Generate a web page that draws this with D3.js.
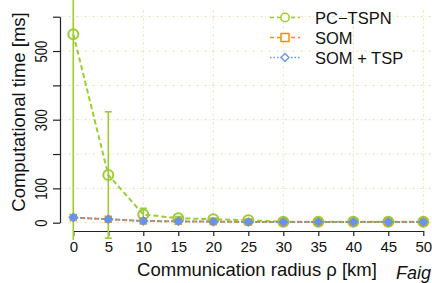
<!DOCTYPE html>
<html>
<head>
<meta charset="utf-8">
<script src="https://cdn.jsdelivr.net/npm/d3@7"></script>
<style>
  body { margin: 0; background: #fff; }
  svg { display: block; font-family: "Liberation Sans", Arial, sans-serif; }
</style>
</head>
<body>
<div id="chart"></div>
<script>
// communication radius [km]
var radius = [0, 5, 10, 15, 20, 25, 30, 35, 40, 45, 50];
// computational time [ms]
var pcTspn = [549, 139, 24, 13, 10, 7, 3, 3, 3, 3, 3];
var pcTspnErr = [700, 184, 18, 5, 3, 2, 1, 1, 1, 1, 1];
var som = [15, 10, 5, 4, 3, 2, 2, 2, 2, 2, 2];
var somTsp = [15, 10, 5, 4, 3, 2, 2, 2, 2, 2, 2];
var yTicks = [0, 100, 200, 300, 400, 500, 600];
var yLabels = [0, 100, 300, 500];
var legendNames = ['PC\u2212TSPN', 'SOM', 'SOM + TSP'];

var width = 432, height = 283;
var green = '#9acd32', orange = '#ff8c00', blue = '#6495ed', gridCol = '#ece5c3';

var svg = d3.select('#chart').append('svg')
    .attr('width', width)
    .attr('height', height);

var x = d3.scaleLinear().domain([0, 50]).range([73.3, 423.3]);
var y = d3.scaleLinear().domain([0, 600]).range([222.7, 16.7]);

svg.append('defs').append('clipPath').attr('id', 'plotclip')
    .append('rect').attr('x', 60).attr('y', 0).attr('width', 372).attr('height', 240);

//grid
var grid = svg.append('g');
grid.selectAll('.hg').data(yTicks).join('line')
    .attr('x1', 60).attr('x2', width)
    .attr('y1', d => y(d)).attr('y2', d => y(d))
    .attr('stroke', gridCol).attr('stroke-width', 1)
    .attr('stroke-dasharray', '3,2,1,2');
grid.selectAll('.vg').data(radius.filter(d => d % 10 == 0)).join('line')
    .attr('x1', d => x(d)).attr('x2', d => x(d))
    .attr('y1', y(620)).attr('y2', y(-8))
    .attr('stroke', gridCol).attr('stroke-width', 1)
    .attr('stroke-dasharray', '3,2,1,2');

//axes
var yAxis = svg.append('g')
    .attr('transform', 'translate(60,0)')
    .call(d3.axisLeft(y).tickValues(yTicks).tickSize(7).tickSizeOuter(0)
        .tickFormat(d => yLabels.indexOf(d) >= 0 ? d : ''));
yAxis.select('.domain').attr('stroke', '#222').attr('stroke-width', 1.2);
yAxis.selectAll('.tick line').attr('stroke', '#222').attr('stroke-width', 1.2);
yAxis.selectAll('.tick text')
    .attr('x', null).attr('dy', null)
    .attr('transform', 'translate(-13.5,0) rotate(-90) scale(0.82,1)')
    .attr('text-anchor', 'middle')
    .style('font-size', '16px')
    .attr('fill', '#111');

var xAxis = svg.append('g')
    .attr('transform', 'translate(0,231)')
    .call(d3.axisBottom(x).tickValues(radius).tickSize(5).tickSizeOuter(0));
xAxis.select('.domain').attr('stroke', '#222').attr('stroke-width', 1.2);
xAxis.selectAll('.tick line').attr('stroke', '#222').attr('stroke-width', 1.2);
xAxis.selectAll('.tick text')
    .attr('y', 20.5).attr('dy', null)
    .style('font-size', '15px')
    .attr('fill', '#111');

svg.append('text')
    .attr('transform', 'translate(25,112) rotate(-90)')
    .attr('text-anchor', 'middle')
    .style('font-size', '18.5px')
    .attr('fill', '#111')
    .text('Computational time [ms]');

svg.append('text')
    .attr('x', 257).attr('y', 276)
    .attr('text-anchor', 'middle')
    .style('font-size', '18.5px')
    .attr('fill', '#111')
    .text('Communication radius \u03c1 [km]');

svg.append('text')
    .attr('x', 396).attr('y', 278.5)
    .style('font-size', '18px')
    .style('font-style', 'italic')
    .attr('fill', '#111')
    .text('Faig');

//series
var plot = svg.append('g').attr('clip-path', 'url(#plotclip)');

plot.selectAll('.err').data(radius).join('g').each(function(d, i) {
    var g = d3.select(this);
    var lo = y(pcTspn[i] - pcTspnErr[i]), hi = y(pcTspn[i] + pcTspnErr[i]);
    g.append('line').attr('x1', x(d)).attr('x2', x(d)).attr('y1', lo).attr('y2', hi)
        .attr('stroke', green).attr('stroke-width', 1.6);
    [lo, hi].forEach(function(v) {
        g.append('line').attr('x1', x(d) - 3.5).attr('x2', x(d) + 3.5).attr('y1', v).attr('y2', v)
            .attr('stroke', green).attr('stroke-width', 1.6);
    });
});

var line = function(vals) {
    return d3.line().x((d, i) => x(radius[i])).y(d => y(d))(vals);
};

plot.append('path').attr('d', line(pcTspn))
    .attr('fill', 'none').attr('stroke', green).attr('stroke-width', 2)
    .attr('stroke-dasharray', '5,3');
plot.selectAll('.pc').data(pcTspn).join('circle')
    .attr('cx', (d, i) => x(radius[i])).attr('cy', d => y(d)).attr('r', 5)
    .attr('fill', 'none').attr('stroke', green).attr('stroke-width', 2);

plot.append('path').attr('d', line(som))
    .attr('fill', 'none').attr('stroke', orange).attr('stroke-width', 2)
    .attr('stroke-dasharray', '4,3');
plot.selectAll('.som').data(som).join('rect')
    .attr('x', (d, i) => x(radius[i]) - 3).attr('y', d => y(d) - 3)
    .attr('width', 6).attr('height', 6)
    .attr('fill', 'none').attr('stroke', orange).attr('stroke-width', 1.5);

plot.append('path').attr('d', line(somTsp))
    .attr('fill', 'none').attr('stroke', blue).attr('stroke-width', 2)
    .attr('stroke-dasharray', '1.5,2');
plot.selectAll('.somtsp').data(somTsp).join('path')
    .attr('d', d3.symbol().type(d3.symbolDiamond2).size(40))
    .attr('transform', (d, i) => 'translate(' + x(radius[i]) + ',' + y(d) + ')')
    .attr('fill', blue).attr('stroke', blue).attr('stroke-width', 1.5);

//legend
var lg = svg.append('g').attr('transform', 'translate(270,0)');
var lgColors = [green, orange, blue];
var lgDash = ['4,3', '4,3', '1.5,2'];
var lgRows = lg.selectAll('.row').data(legendNames).join('g')
    .attr('transform', (d, i) => 'translate(0,' + (17.5 + i * 20) + ')');
lgRows.append('line').attr('x1', 0).attr('x2', 30)
    .attr('stroke', (d, i) => lgColors[i]).attr('stroke-width', 1.5)
    .attr('stroke-dasharray', (d, i) => lgDash[i]);
lgRows.each(function(d, i) {
    var r = d3.select(this);
    if (i == 0) {
        r.append('circle').attr('cx', 15).attr('r', 4.2)
            .attr('fill', '#fff').attr('stroke', green).attr('stroke-width', 1.5);
    } else if (i == 1) {
        r.append('rect').attr('x', 11).attr('y', -4).attr('width', 8).attr('height', 8)
            .attr('fill', '#fff').attr('stroke', orange).attr('stroke-width', 1.5);
    } else {
        r.append('path').attr('d', d3.symbol().type(d3.symbolDiamond2).size(40))
            .attr('transform', 'translate(15,0)')
            .attr('fill', '#fff').attr('stroke', blue).attr('stroke-width', 1.3);
    }
});
lgRows.append('text').attr('x', 45).attr('y', 6.5)
    .style('font-size', '16.5px')
    .attr('fill', '#111')
    .text(d => d);
</script>
</body>
</html>
